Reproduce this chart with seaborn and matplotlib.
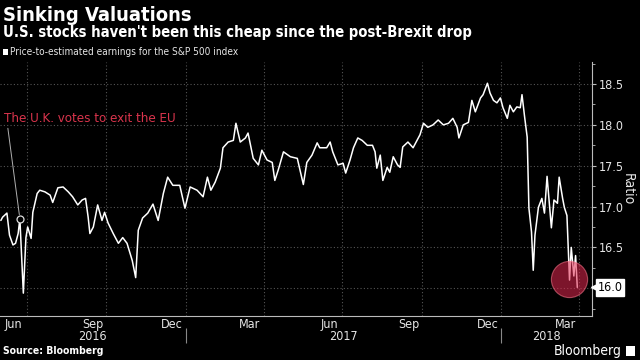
import matplotlib
matplotlib.use("Agg")
import pandas as pd
import matplotlib.pyplot as plt
import matplotlib.dates as mdates
import seaborn as sns
from matplotlib.patches import Rectangle
from matplotlib.ticker import MultipleLocator, NullFormatter

# ---- data --------------------------------------------------------------------
DATES = [
    "2016-06-01", "2016-06-03", "2016-06-08", "2016-06-11", "2016-06-15",
    "2016-06-18", "2016-06-21", "2016-06-23", "2016-06-27", "2016-06-30",
    "2016-07-02", "2016-07-06", "2016-07-08", "2016-07-13", "2016-07-16",
    "2016-07-22", "2016-07-28", "2016-07-31", "2016-08-06", "2016-08-12",
    "2016-08-18", "2016-08-23", "2016-08-29", "2016-09-03", "2016-09-07",
    "2016-09-10", "2016-09-12", "2016-09-16", "2016-09-21", "2016-09-26",
    "2016-09-29", "2016-10-03", "2016-10-09", "2016-10-15", "2016-10-20",
    "2016-10-25", "2016-10-31", "2016-11-04", "2016-11-07", "2016-11-12",
    "2016-11-18", "2016-11-24", "2016-11-30", "2016-12-06", "2016-12-11",
    "2016-12-17", "2016-12-25", "2016-12-31", "2017-01-06", "2017-01-14",
    "2017-01-21", "2017-01-26", "2017-01-30", "2017-02-04", "2017-02-10",
    "2017-02-13", "2017-02-19", "2017-02-25", "2017-02-28", "2017-03-05",
    "2017-03-11", "2017-03-14", "2017-03-20", "2017-03-26", "2017-03-30",
    "2017-04-05", "2017-04-11", "2017-04-14", "2017-04-18", "2017-04-24",
    "2017-05-02", "2017-05-10", "2017-05-17", "2017-05-21", "2017-05-27",
    "2017-06-02", "2017-06-05", "2017-06-13", "2017-06-17", "2017-06-20",
    "2017-06-26", "2017-07-02", "2017-07-05", "2017-07-10", "2017-07-14",
    "2017-07-19", "2017-07-24", "2017-07-30", "2017-08-05", "2017-08-08",
    "2017-08-10", "2017-08-14", "2017-08-17", "2017-08-22", "2017-08-25",
    "2017-08-29", "2017-09-03", "2017-09-06", "2017-09-09", "2017-09-15",
    "2017-09-21", "2017-09-29", "2017-10-03", "2017-10-08", "2017-10-14",
    "2017-10-20", "2017-10-26", "2017-11-01", "2017-11-06", "2017-11-11",
    "2017-11-13", "2017-11-18", "2017-11-24", "2017-11-28", "2017-12-02",
    "2017-12-08", "2017-12-11", "2017-12-16", "2017-12-19", "2017-12-23",
    "2017-12-27", "2017-12-31", "2018-01-03", "2018-01-08", "2018-01-11",
    "2018-01-15", "2018-01-19", "2018-01-23", "2018-01-25", "2018-01-28",
    "2018-01-31", "2018-02-02", "2018-02-05", "2018-02-07", "2018-02-09",
    "2018-02-13", "2018-02-17", "2018-02-20", "2018-02-23", "2018-02-28",
    "2018-03-03", "2018-03-07", "2018-03-09", "2018-03-13", "2018-03-15",
    "2018-03-18", "2018-03-21", "2018-03-23", "2018-03-26", "2018-03-28",
    "2018-03-30",
]
PE_RATIO = [
    16.83, 16.87, 16.92, 16.65, 16.53, 16.55, 16.67, 16.85, 15.94, 16.62,
    16.75, 16.61, 16.93, 17.16, 17.20, 17.18, 17.14, 17.05, 17.23, 17.24,
    17.18, 17.12, 17.02, 17.08, 17.10, 16.87, 16.67, 16.75, 17.02, 16.83,
    16.93, 16.80, 16.67, 16.55, 16.62, 16.55, 16.34, 16.13, 16.71, 16.86,
    16.92, 17.03, 16.83, 17.16, 17.36, 17.26, 17.26, 16.98, 17.24, 17.20,
    17.12, 17.36, 17.20, 17.30, 17.47, 17.72, 17.79, 17.81, 18.02, 17.79,
    17.84, 17.90, 17.59, 17.51, 17.69, 17.57, 17.54, 17.32, 17.45, 17.67,
    17.61, 17.59, 17.27, 17.54, 17.63, 17.78, 17.72, 17.72, 17.79, 17.67,
    17.51, 17.53, 17.41, 17.57, 17.72, 17.84, 17.81, 17.75, 17.75, 17.67,
    17.47, 17.63, 17.32, 17.48, 17.42, 17.61, 17.51, 17.48, 17.73, 17.79,
    17.72, 17.88, 18.02, 17.97, 18.00, 18.06, 18.00, 18.02, 18.08, 17.97,
    17.84, 18.00, 18.03, 18.30, 18.16, 18.33, 18.37, 18.51, 18.39, 18.30,
    18.27, 18.33, 18.21, 18.08, 18.24, 18.16, 18.22, 18.21, 18.37, 18.10,
    17.85, 16.98, 16.69, 16.22, 16.65, 16.99, 17.10, 16.92, 17.37, 16.74,
    17.08, 17.04, 17.36, 17.10, 16.99, 16.89, 16.10, 16.50, 16.15, 16.40,
    16.01,
]
Y_TICKS = [16.0, 16.5, 17.0, 17.5, 18.0, 18.5]
MONTH_LABELS = ["Jun", "Sep", "Dec", "Mar", "Jun", "Sep", "Dec", "Mar"]
MONTH_LABEL_DATES = ["2016-06-16", "2016-09-16", "2016-12-16", "2017-03-16",
                     "2017-06-16", "2017-09-16", "2017-12-16", "2018-03-16"]
YEAR_LABELS = ["2016", "2017", "2018"]
X_RANGE = ["2016-05-31", "2018-04-16"]
Y_RANGE = [15.66, 18.77]
BREXIT_DATE = "2016-06-23"
HIGHLIGHT_DATE = "2018-03-20"
HIGHLIGHT_VALUE = 16.11

W, H = 640, 360
FG = "#e6e6e6"
GRID = "#555555"


def main() -> None:
    sns.set_theme(style="dark", rc={
        "figure.facecolor": "black", "axes.facecolor": "black",
        "axes.edgecolor": "#bbbbbb", "axes.grid": False,
        "xtick.color": "#bbbbbb", "ytick.color": "#bbbbbb",
        "text.color": FG,
    })
    plt.rcParams["font.family"] = ["DejaVu Sans"]
    plt.rcParams["font.stretch"] = "condensed"

    df = pd.DataFrame({"date": pd.to_datetime(DATES), "pe": PE_RATIO})

    fig = plt.figure(figsize=(W / 100, H / 100), dpi=100)
    ax = fig.add_axes([0, 1 - 316 / H, 592 / W, 254 / H])

    sns.lineplot(data=df, x="date", y="pe", color="white", lw=1.1,
                 ax=ax, zorder=3)

    x0, x1 = pd.to_datetime(X_RANGE)
    ax.set_xlim(x0, x1)
    ax.set_ylim(*Y_RANGE)

    for side in ("left", "top"):
        ax.spines[side].set_visible(False)
    for side in ("right", "bottom"):
        ax.spines[side].set_color("#bbbbbb")
        ax.spines[side].set_linewidth(0.8)

    # ---- y axis on the right --------------------------------------------
    last = df["pe"].iloc[-1]
    ax.yaxis.tick_right()
    ax.set_yticks(Y_TICKS)
    ax.set_yticklabels(["" if round(last, 1) == t else f"{t:.1f}"
                        for t in Y_TICKS])
    ax.yaxis.set_minor_locator(MultipleLocator(0.25))
    ax.tick_params(axis="y", which="major", length=3, width=0.8, pad=2,
                   labelsize=9, labelcolor=FG)
    ax.tick_params(axis="y", which="minor", length=2, width=0.6)
    ax.yaxis.set_label_position("right")
    ax.set_ylabel("Ratio", rotation=270, color=FG, fontsize=10, labelpad=8)

    # ---- x axis: quarter ticks + monthly minor ticks ---------------------
    ax.xaxis.set_major_locator(mdates.MonthLocator(bymonth=[1, 4, 7, 10]))
    ax.xaxis.set_major_formatter(NullFormatter())
    ax.xaxis.set_minor_locator(mdates.MonthLocator())
    ax.tick_params(axis="x", which="major", length=4, width=0.8)
    ax.tick_params(axis="x", which="minor", length=2, width=0.6)
    ax.set_xlabel("")

    ax.grid(True, which="major", ls=(0, (1, 2)), color=GRID, lw=0.8)

    months = ax.secondary_xaxis("bottom")
    months.set_xticks(mdates.date2num(pd.to_datetime(MONTH_LABEL_DATES)),
                      labels=MONTH_LABELS)
    months.tick_params(length=0, pad=1.5, labelsize=9, labelcolor=FG)
    months.spines["bottom"].set_visible(False)

    # year row with separators at year boundaries
    years = ax.secondary_xaxis(-12 / 254)
    bounds = pd.to_datetime([f"{y}-01-01" for y in YEAR_LABELS[1:]])
    edges = [x0] + list(bounds) + [x1]
    centers = [a + (b - a) / 2 for a, b in zip(edges[:-1], edges[1:])]
    years.set_xticks(mdates.date2num(bounds), labels=["", ""])
    years.set_xticks(mdates.date2num(pd.to_datetime(centers)),
                     labels=YEAR_LABELS, minor=True)
    years.tick_params(which="major", length=11, width=0.8, color="#888888",
                      direction="out")
    years.tick_params(which="minor", length=0, pad=1.5, labelsize=9,
                      labelcolor=FG)
    years.spines["bottom"].set_visible(False)

    # ---- last-value tag ----------------------------------------------------
    ax.annotate(f"{last:.1f}", xy=(1, last),
                xycoords=("axes fraction", "data"), xytext=(4, 0),
                textcoords="offset points", ha="left", va="center",
                color="black", fontsize=9, zorder=6, annotation_clip=False,
                bbox=dict(boxstyle="square,pad=0.15", fc="white", ec="white"))
    ax.plot([1.004], [last], marker="<", ms=4, color="white", zorder=6,
            transform=ax.get_yaxis_transform(), clip_on=False)

    # ---- Brexit annotation --------------------------------------------------
    bdate = pd.Timestamp(BREXIT_DATE)
    bval = df.loc[df["date"] == bdate, "pe"].iloc[0]
    ax.plot([bdate], [bval], marker="o", ms=5, mfc="black", mec="#dddddd",
            mew=0.9, zorder=5)
    ax.annotate("The U.K. votes to exit the EU", xy=(bdate, bval),
                xytext=(4, H - 122), textcoords="figure pixels",
                ha="left", va="baseline", color="#d9344c", fontsize=9.5,
                arrowprops=dict(arrowstyle="-", color="#b0b0b0", lw=0.7,
                                shrinkA=0, shrinkB=3, relpos=(0.02, 0)))

    # ---- highlight circle on recent lows -----------------------------------
    ax.scatter([pd.Timestamp(HIGHLIGHT_DATE)], [HIGHLIGHT_VALUE], s=680,
               color="#e3284f", alpha=0.55, edgecolors="#ff7a90",
               linewidths=0.8, zorder=4)

    # ---- titles, legend, footer ------------------------------------------
    fig.text(3 / W, 1 - 21 / H, "Sinking Valuations", fontsize=14.5,
             fontweight="bold", color="white", va="baseline")
    fig.text(3 / W, 1 - 37 / H,
             "U.S. stocks haven't been this cheap since the post-Brexit drop",
             fontsize=10.6, fontweight="bold", color="white", va="baseline")
    fig.add_artist(Rectangle((3 / W, 1 - 55 / H), 5 / W, 6 / H,
                             transform=fig.transFigure, fc="white", ec="none"))
    fig.text(10 / W, 1 - 52 / H,
             "Price-to-estimated earnings for the S&P 500 index",
             fontsize=7.2, color=FG, va="center")
    fig.text(3 / W, 1 - 351 / H, "Source: Bloomberg", fontsize=7.5,
             fontweight="bold", color="white", va="center")
    fig.text(622 / W, 1 - 351 / H, "Bloomberg", fontsize=10,
             color="white", va="center", ha="right")
    fig.add_artist(Rectangle((626 / W, 1 - 356 / H), 9 / W, 10 / H,
                             transform=fig.transFigure, fc="white", ec="none"))

    fig.savefig("out.png", dpi=100, facecolor="black")
    plt.close(fig)


if __name__ == "__main__":
    main()
